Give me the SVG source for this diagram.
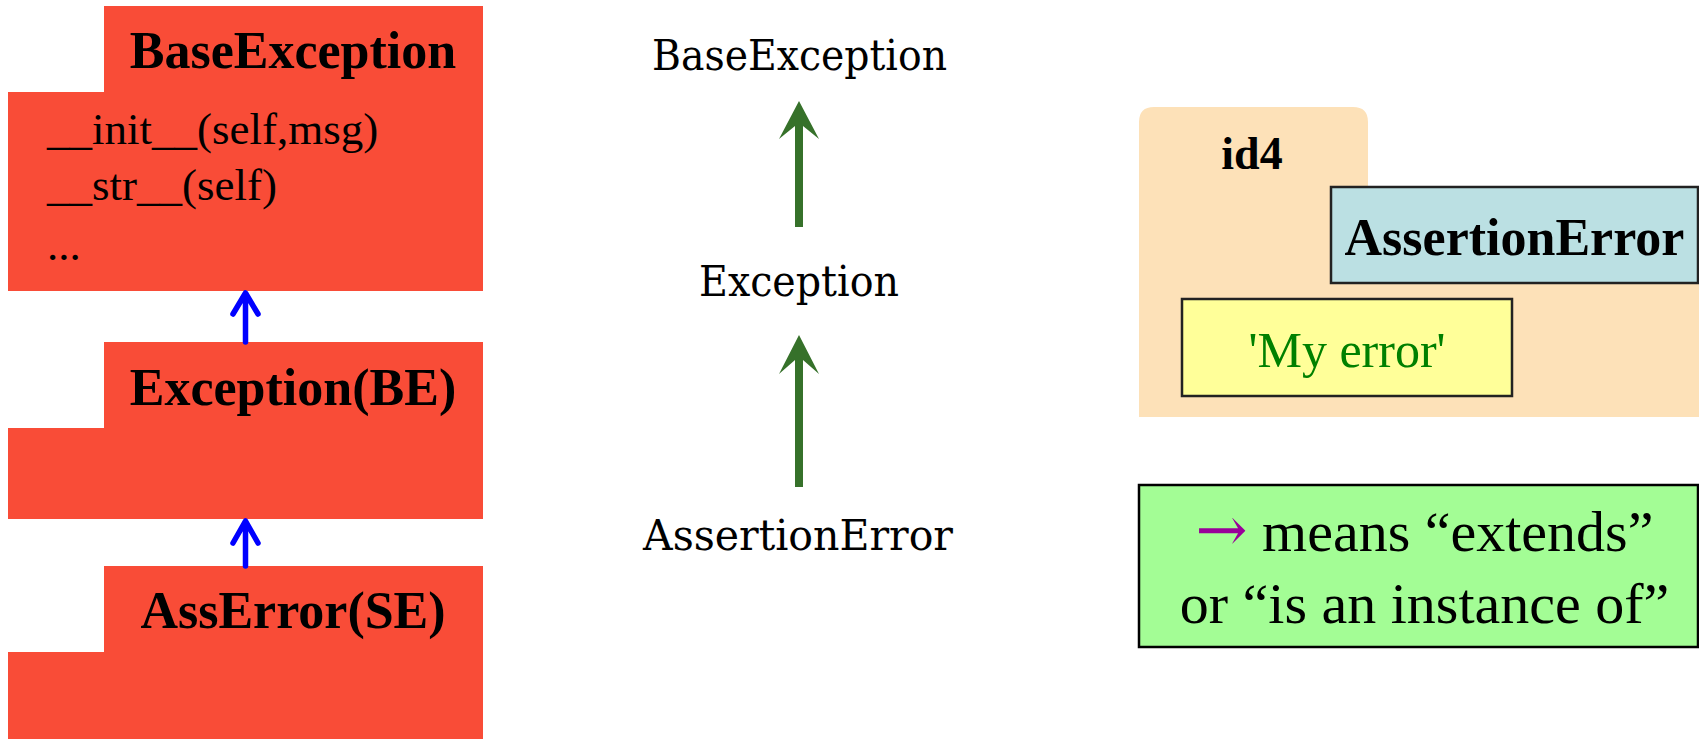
<svg xmlns="http://www.w3.org/2000/svg" width="1699" height="739" viewBox="0 0 1699 739">
<style>
.cls{fill:#F94C37;}
.title{font-family:"Liberation Serif","Times New Roman",serif;font-weight:bold;font-size:52px;fill:#000;text-anchor:middle;}
.meth{font-family:"Liberation Serif","Times New Roman",serif;font-size:45px;fill:#000;}
.mono{font-family:"DejaVu Serif",serif;font-size:42px;fill:#000;}
.blue{stroke:#0000FF;stroke-width:5.5;fill:none;stroke-linecap:round;stroke-linejoin:round;}
.green{fill:#36712A;}
.serif{font-family:"Liberation Serif","Times New Roman",serif;}
</style>

<g id="node-baseexception">
  <path class="cls" d="M104,6 H483 V291 H8 V92 H104 Z"/>
  <text class="title" x="293" y="68">BaseException</text>
  <text class="meth" x="47" y="144">__init__(self,msg)</text>
  <text class="meth" x="47" y="200">__str__(self)</text>
  <text class="meth" x="47" y="260">...</text>
</g>

<g id="node-exception-be">
  <path class="cls" d="M104,342 H483 V519 H8 V428 H104 Z"/>
  <text class="title" x="293" y="405">Exception(BE)</text>
</g>

<g id="node-asserror-se">
  <path class="cls" d="M104,566 H483 V739 H8 V652 H104 Z"/>
  <text class="title" x="293" y="628">AssError(SE)</text>
</g>

<g id="node-mid-baseexception">
  <text class="mono" x="652" y="70" textLength="295" lengthAdjust="spacingAndGlyphs">BaseException</text>
</g>
<g id="node-mid-exception">
  <text class="mono" x="699" y="296" textLength="200" lengthAdjust="spacingAndGlyphs">Exception</text>
</g>
<g id="node-mid-assertionerror">
  <text class="mono" x="643" y="550" textLength="310" lengthAdjust="spacingAndGlyphs">AssertionError</text>
</g>

<g id="node-id4">
  <path fill="#FDE1B8" d="M1139,417 V122 Q1139,107 1154,107 H1353 Q1368,107 1368,122 V187 H1699 V417 Z"/>
  <text class="serif" x="1252" y="169" font-size="46" font-weight="bold" text-anchor="middle">id4</text>
  <g id="node-assertionerror-tag">
    <rect x="1331" y="187" width="367" height="96" fill="#BBE0E3" stroke="#222" stroke-width="2.5"/>
    <text class="serif" x="1514.5" y="255" font-size="52" font-weight="bold" text-anchor="middle">AssertionError</text>
  </g>
  <g id="node-msg">
    <rect x="1182" y="299" width="330" height="97" fill="#FFFF99" stroke="#222" stroke-width="2.5"/>
    <text class="serif" x="1347" y="367" font-size="50" fill="#008000" text-anchor="middle">'My error'</text>
  </g>
</g>

<g id="node-legend">
  <rect x="1139" y="485" width="559" height="162" fill="#A3FD95" stroke="#000" stroke-width="2.5"/>
  <text class="serif" x="1424.5" y="551" font-size="58" text-anchor="middle"><tspan fill="#990099" font-family="DejaVu Serif, serif" font-size="62">→</tspan> means “extends”</text>
  <text class="serif" x="1424.5" y="623" font-size="58" text-anchor="middle">or “is an instance of”</text>
</g>

<g id="connectors">
  <path class="blue" d="M245.5,342 V294 M233,314 L245.5,293 L258,314"/>
  <path class="blue" d="M245.5,566 V522 M233,543 L245.5,521 L258,543"/>
  <polygon class="green" points="799,101 819,139 803,126 803,227 795,227 795,126 779,139"/>
  <polygon class="green" points="799,335 819,374 803,360 803,487 795,487 795,360 779,374"/>
</g>
</svg>
